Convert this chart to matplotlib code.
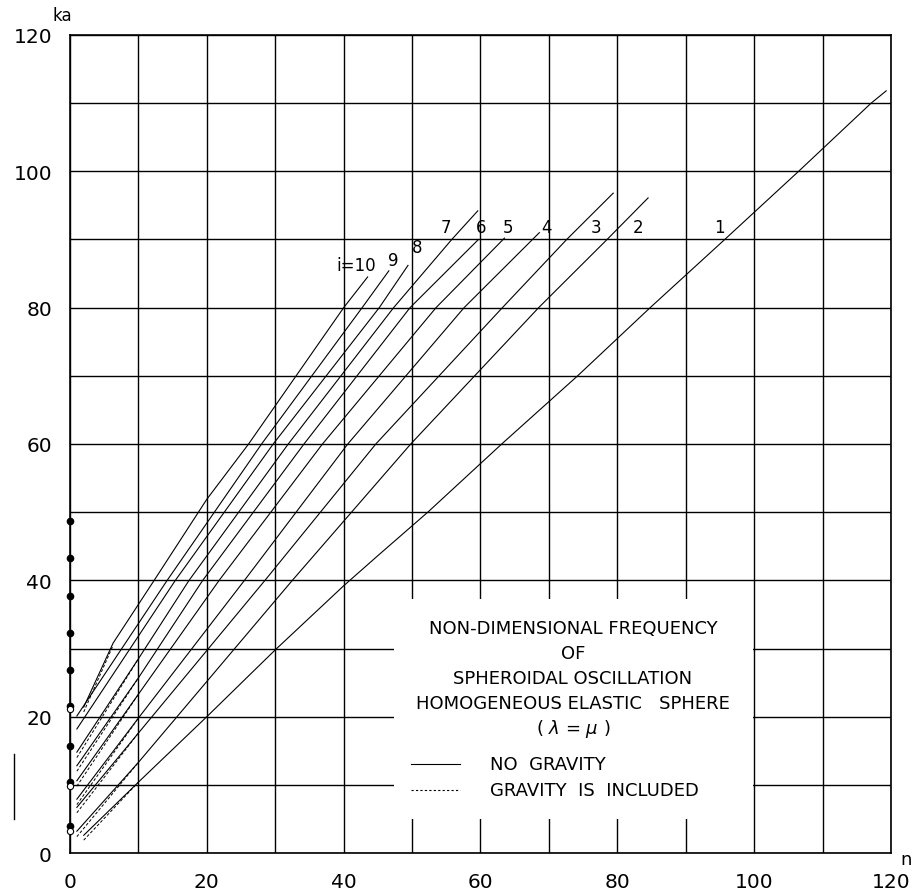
import matplotlib.pyplot as plt
import numpy as np
from matplotlib.patches import Rectangle
from matplotlib.lines import Line2D

# curves: (n, ka) points for each overtone i
n_pts = {
    1: [2, 10, 20, 30, 40, 45.2, 52.3, 63.1, 74.2, 84.8, 95.7, 106.5, 117.1, 119.3],
    2: [1, 10, 32.5, 49.8, 68.5, 78.5, 84.5],
    3: [1, 10, 28.5, 44.7, 63.2, 72.6, 79.4],
    4: [1, 10, 25.5, 40.6, 57.6, 67.6, 68.6],
    5: [1, 10, 21.8, 36.9, 53.5, 63.5],
    6: [1, 10, 19.4, 34.2, 49.7, 59.7],
    7: [1, 10, 17.4, 31.9, 47.3, 55.8, 59.6],
    8: [1, 15.4, 29.7, 45.2, 49.4],
    9: [1, 14.2, 28.0, 42.7, 46.6],
    10: [2, 6.3, 12.3, 20, 26.1, 40, 43.5],
}
ka_pts = {
    1: [2.6, 10.4, 20, 29.8, 39.2, 43.8, 50, 60, 70, 80, 90, 100, 110, 111.8],
    2: [3.2, 13.3, 40, 60, 80, 90, 96.1],
    3: [6.7, 17.6, 40, 60, 80, 90, 96.8],
    4: [7.9, 19.8, 40, 60, 80, 90, 91.0],
    5: [10.6, 23.3, 40, 60, 80, 90.2],
    6: [12.8, 25.7, 40, 60, 80, 90.0],
    7: [14.8, 28.5, 40, 60, 80, 90, 94.2],
    8: [18.2, 40, 60, 80, 86.2],
    9: [20.1, 40, 60, 80, 85.4],
    10: [21.4, 30.8, 40, 51.9, 60, 80, 84.5],
}
# n = 0 (radial) values on the ka axis
radial_nogr = [3.9, 10.4, 15.7, 21.5, 26.8, 32.3, 37.7, 43.3, 48.7]
radial_gr = [3.3, 9.9, 21.1]

# curve labels
lab_n = [94.9, 83.0, 76.9, 69.7, 64.0, 60.1, 55.0, 50.7, 47.2, 41.9]
lab_ka = [91.8, 91.8, 91.8, 91.8, 91.8, 91.8, 91.8, 88.9, 87.0, 86.3]
lab_txt = ['1', '2', '3', '4', '5', '6', '7', '8', '9', 'i=10']

fig = plt.figure(figsize=(9.19, 8.95), dpi=100)
ax = fig.add_axes([0.0762, 0.0458, 0.8933, 0.9140])
ax.set_xlim(0, 120)
ax.set_ylim(0, 120)

ax.set_xticks(range(0, 121, 20))
ax.set_yticks(range(0, 121, 20))
ax.set_xticks(range(10, 120, 20), minor=True)
ax.set_yticks(range(10, 120, 20), minor=True)
ax.tick_params(which='both', length=0, labelsize=14.5)
ax.tick_params(axis='x', pad=14)
ax.tick_params(axis='y', pad=13)
ax.set_axisbelow(True)
ax.grid(True, which='both', color='black', lw=1.0)
for s in ax.spines.values():
    s.set_linewidth(1.2)

# blank area for the caption
ax.add_patch(Rectangle((47.3, 5), 52.5, 32.2, facecolor='white',
                       edgecolor='none', zorder=1))

for i in range(1, 11):
    n = np.array(n_pts[i], dtype=float)
    k = np.array(ka_pts[i], dtype=float)
    ax.plot(n, k, color='black', lw=0.8, zorder=2)
    # gravity included: only differs near the low-n end
    m = n <= 10
    ax.plot(n[m], k[m] - 0.8 * (10 - n[m]) / 9, color='black', lw=0.7,
            ls=(0, (3, 2)), zorder=2)

ax.plot(np.zeros(len(radial_nogr)), radial_nogr, 'o', color='black', ms=4.5,
        clip_on=False, zorder=3)
ax.plot(np.zeros(len(radial_gr)), radial_gr, 'o', mfc='white', mec='black',
        ms=4.5, mew=0.8, clip_on=False, zorder=3)

for x, y, t in zip(lab_n, lab_ka, lab_txt):
    ax.text(x, y, t, fontsize=12, ha='center', va='center', zorder=4)

# caption
cap = ['NON-DIMENSIONAL FREQUENCY', 'OF', 'SPHEROIDAL OSCILLATION',
       'HOMOGENEOUS ELASTIC   SPHERE', r'( $\lambda$ = $\mu$ )']
cap_y = [33.0, 29.3, 25.6, 22.0, 18.4]
for t, y in zip(cap, cap_y):
    ax.text(73.5, y, t, fontsize=13, ha='center', va='center', zorder=4)

ax.plot([49.8, 57.0], [13.0, 13.0], color='black', lw=0.8, zorder=4)
ax.plot([49.8, 57.0], [9.3, 9.3], color='black', lw=0.8, ls=(0, (2, 2)), zorder=4)
ax.text(61.4, 13.0, 'NO  GRAVITY', fontsize=13, va='center', zorder=4)
ax.text(61.4, 9.3, 'GRAVITY  IS  INCLUDED', fontsize=13, va='center', zorder=4)

ax.text(-1.2, 123.0, 'ka', fontsize=12, ha='center', va='center', clip_on=False)
ax.text(122.2, -0.9, 'n', fontsize=13, ha='center', va='center', clip_on=False)

# stray mark at the left margin of the scan
fig.add_artist(Line2D([14 / 919, 14 / 919], [1 - 755 / 895, 1 - 820 / 895],
                      color='black', lw=1.0))

plt.savefig('out.png', dpi=100)
